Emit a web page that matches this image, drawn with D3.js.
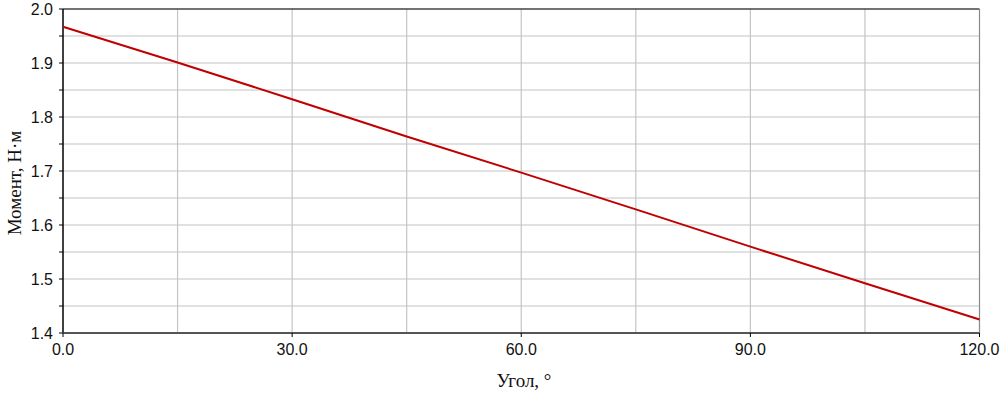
<!DOCTYPE html>
<html>
<head>
<meta charset="utf-8">
<script src="https://cdn.jsdelivr.net/npm/d3@7"></script>
<style>
  body { margin: 0; background: #fff; }
  .tick-label { font-family: "Liberation Sans", Arial, sans-serif; font-size: 16px; fill: #111; }
  .axis-title { font-family: "Liberation Serif", "Times New Roman", serif; font-size: 19px; fill: #111; }
</style>
</head>
<body>
<div id="chart"></div>
<script>
// angle (deg) vs torque (N·m)
const angles  = [0, 15, 30, 45, 60, 75, 90, 105, 120];
const moments = [1.967, 1.901, 1.833, 1.764, 1.697, 1.629, 1.560, 1.492, 1.425];

const xTicks = [0, 30, 60, 90, 120];
const xGrid  = [15, 30, 45, 60, 75, 90, 105];
const yTicks = [1.4, 1.5, 1.6, 1.7, 1.8, 1.9, 2.0];
const yGrid  = [1.45, 1.5, 1.55, 1.6, 1.65, 1.7, 1.75, 1.8, 1.85, 1.9, 1.95];
const yMinor = [1.45, 1.55, 1.65, 1.75, 1.85, 1.95];

const xTitle = 'Угол, °';
const yTitle = 'Момент, Н·м';

const width = 1004, height = 395;
const margin = { top: 9, left: 63, right: 24.5, bottom: 62 };

const svg = d3.select('#chart').append('svg')
    .attr('width', width)
    .attr('height', height);

const x = d3.scaleLinear().domain([0, 120]).range([margin.left, width - margin.right]);
const y = d3.scaleLinear().domain([1.4, 2.0]).range([height - margin.bottom, margin.top]);

// grid
svg.append('g').selectAll('line')
    .data(xGrid).enter().append('line')
    .attr('x1', d => x(d)).attr('x2', d => x(d))
    .attr('y1', y(2.0)).attr('y2', y(1.4))
    .attr('stroke', '#c4c4c4').attr('stroke-width', 1.2);

svg.append('g').selectAll('line')
    .data(yGrid).enter().append('line')
    .attr('x1', x(0)).attr('x2', x(120))
    .attr('y1', d => y(d)).attr('y2', d => y(d))
    .attr('stroke', '#c4c4c4').attr('stroke-width', 1.2);

// frame: top and right
svg.append('line')
    .attr('x1', x(0)).attr('x2', x(120)).attr('y1', y(2.0)).attr('y2', y(2.0))
    .attr('stroke', '#444').attr('stroke-width', 1.5);
svg.append('line')
    .attr('x1', x(120)).attr('x2', x(120)).attr('y1', y(2.0)).attr('y2', y(1.4))
    .attr('stroke', '#888').attr('stroke-width', 1.2);

// y axis
const yAxis = svg.append('g').attr('transform', 'translate(' + x(0) + ',0)');
yAxis.append('line')
    .attr('y1', y(2.0)).attr('y2', y(1.4))
    .attr('stroke', '#000').attr('stroke-width', 1.5);
yAxis.selectAll('.ytick')
    .data(yTicks.concat(yMinor)).enter().append('line')
    .attr('x1', -4).attr('x2', 0)
    .attr('y1', d => y(d)).attr('y2', d => y(d))
    .attr('stroke', '#000');
yAxis.selectAll('text')
    .data(yTicks).enter().append('text')
    .classed('tick-label', true)
    .attr('x', -10).attr('y', d => y(d))
    .attr('dy', '0.36em')
    .attr('text-anchor', 'end')
    .text(d => d3.format('.1f')(d));

// x axis
const xAxis = svg.append('g').attr('transform', 'translate(0,' + y(1.4) + ')');
xAxis.append('line')
    .attr('x1', x(0)).attr('x2', x(120))
    .attr('stroke', '#555').attr('stroke-width', 2);
xAxis.selectAll('.xtick')
    .data(xTicks).enter().append('line')
    .attr('x1', d => x(d)).attr('x2', d => x(d))
    .attr('y1', 0).attr('y2', 4)
    .attr('stroke', '#000');
xAxis.selectAll('text')
    .data(xTicks).enter().append('text')
    .classed('tick-label', true)
    .attr('x', d => x(d)).attr('y', 22)
    .attr('text-anchor', 'middle')
    .text(d => d3.format('.1f')(d));

// titles
svg.append('text')
    .classed('axis-title', true)
    .attr('x', 524).attr('y', 387)
    .attr('text-anchor', 'middle')
    .text(xTitle);

svg.append('text')
    .classed('axis-title', true)
    .attr('transform', 'translate(21,' + (y(1.7) + 12) + ') rotate(-90)')
    .attr('text-anchor', 'middle')
    .text(yTitle);

// curve
const line = d3.line()
    .x((d, i) => x(angles[i]))
    .y(d => y(d));

svg.append('path')
    .datum(moments)
    .attr('d', line)
    .attr('fill', 'none')
    .attr('stroke', '#c00000')
    .attr('stroke-width', 2);
</script>
</body>
</html>
